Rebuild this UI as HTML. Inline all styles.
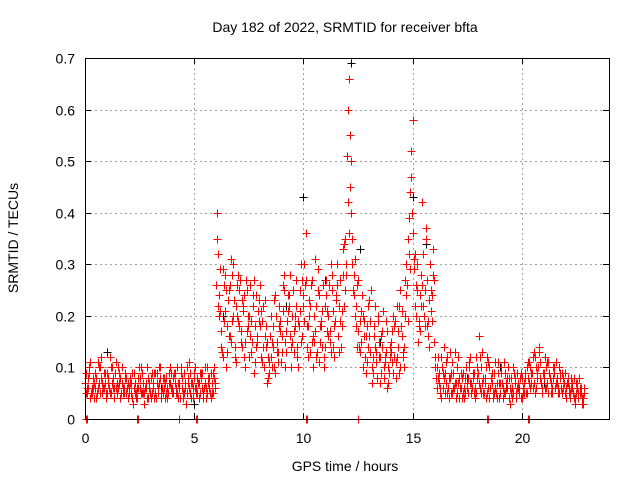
<!DOCTYPE html>
<html><head><meta charset="utf-8"><style>
body{margin:0;background:#fff;}
svg text{font-family:"Liberation Sans",sans-serif;font-size:14px;fill:#000;}
#marks path,#grid line,#ticks line{shape-rendering:crispEdges;}
</style></head><body>
<svg id="chart" width="640" height="480" xmlns="http://www.w3.org/2000/svg">
<rect width="640" height="480" fill="#fff"/>
<text x="345" y="32" text-anchor="middle">Day 182 of 2022, SRMTID for receiver bfta</text>
<text transform="translate(18,238) rotate(-90)" text-anchor="middle">SRMTID / TECUs</text>
<text x="345" y="471" text-anchor="middle">GPS time / hours</text>
<g id="grid"></g><g id="ticks"></g><g id="marks"></g>
<rect x="85.5" y="58.5" width="524" height="361" fill="none" stroke="#000" stroke-width="1"/>
</svg>
<script>
const xTicks=[0,5,10,15,20];
const yTicks=[0,0.1,0.2,0.3,0.4,0.5,0.6,0.7];
const yTickLabels=["0","0.1","0.2","0.3","0.4","0.5","0.6","0.7"];
const redA=[.07,.05,.09,.06,.04,.08,.06,.10,.05,.07,.09,.06,.05,.08,.11,.06,.04,.07,.05,.08,
.06,.05,.03,.07,.04,.06,.09,.05,.07,.04,.08,.06,.05,.09,.07,.04,.06,.08,.05,.07,
.06,.09,.05,.07,.10,.04,.06,.08,.05,.07,.09,.06,.04,.08,.05,.07,.10,.06,.05,.08,
.26,.32,.21,.12,.28,.18,.25,.15,.30,.22,.19,.27,.14,.24,.17,.20,.13,.22,.11,.16,
.26,.19,.10,.14,.08,.12,.18,.09,.15,.22,.13,.25,.17,.21,.28,.15,.20,.12,.18,.30,
.24,.36,.18,.13,.27,.15,.22,.11,.19,.26,.14,.21,.17,.28,.12,.23,.16,.19,.33,.25,
.51,.66,.40,.28,.22,.17,.13,.24,.19,.11,.16,.25,.09,.14,.20,.12,.17,.08,.13,.10,
.15,.09,.19,.12,.22,.16,.10,.30,.35,.44,.58,.32,.25,.18,.28,.22,.37,.19,.30,.24,
.15,.10,.07,.12,.06,.09,.05,.08,.11,.06,.04,.07,.09,.05,.08,.06,.10,.07,.05,.12,
.09,.06,.13,.07,.05,.10,.08,.04,.06,.09,.05,.07,.11,.06,.04,.08,.05,.07,.09,.06,
.04,.07,.05,.08,.10,.06,.12,.08,.14,.07,.09,.06,.11,.08,.05,.09,.07,.10,.06,.08,
.05,.07,.04,.06,.08,.05,.04,.06,.03];
const redB=[.05,.08,.04,.06,.09,.05,.07,.12,.06,.04,.08,.05,.10,.06,.07,.09,.05,.06,.08,.04,
.08,.04,.06,.05,.08,.10,.05,.06,.04,.07,.05,.09,.04,.06,.08,.05,.07,.04,.09,.06,
.08,.05,.07,.04,.06,.09,.05,.11,.07,.04,.06,.08,.05,.09,.06,.04,.07,.09,.05,.06,
.40,.20,.14,.26,.10,.23,.16,.28,.12,.20,.25,.15,.21,.10,.18,.26,.15,.09,.24,.19,
.12,.22,.16,.07,.11,.15,.10,.20,.13,.17,.26,.10,.19,.24,.14,.17,.22,.10,.25,.16,
.30,.14,.20,.26,.10,.17,.29,.15,.21,.12,.24,.16,.30,.14,.19,.26,.13,.21,.34,.28,
.60,.45,.35,.20,.26,.14,.21,.10,.16,.22,.13,.07,.18,.11,.15,.09,.21,.12,.06,.14,
.11,.18,.08,.14,.25,.12,.20,.26,.39,.52,.29,.20,.15,.24,.42,.18,.27,.14,.21,.33,
.12,.08,.05,.10,.14,.07,.04,.09,.06,.13,.05,.08,.04,.06,.10,.05,.07,.09,.04,.08,
.16,.05,.08,.04,.11,.06,.09,.05,.07,.04,.10,.06,.05,.08,.03,.06,.09,.05,.07,.04,
.06,.09,.05,.11,.07,.13,.06,.10,.08,.05,.12,.07,.09,.05,.08,.11,.06,.09,.05,.07,
.04,.06,.08,.05,.03,.07,.05,.04,.06];
const redC=[.09,.06,.11,.05,.07,.04,.10,.08,.06,.09,.05,.12,.07,.04,.06,.10,.08,.05,.09,.06,
.05,.07,.09,.04,.06,.08,.05,.03,.10,.06,.04,.07,.09,.05,.10,.06,.08,.05,.07,.09,
.05,.07,.10,.06,.08,.05,.03,.07,.09,.06,.10,.05,.07,.09,.04,.06,.08,.05,.07,.10,
.35,.24,.17,.29,.21,.13,.26,.19,.23,.11,.28,.17,.22,.15,.25,.12,.19,.27,.14,.21,
.18,.11,.23,.15,.09,.20,.14,.24,.11,.19,.16,.28,.13,.22,.10,.25,.18,.14,.21,.27,
.19,.27,.12,.22,.16,.31,.13,.24,.18,.10,.27,.20,.15,.25,.18,.30,.22,.14,.28,.35,
.42,.55,.30,.24,.18,.27,.15,.20,.12,.18,.23,.10,.16,.13,.19,.07,.14,.11,.17,.09,
.13,.20,.11,.17,.10,.21,.14,.24,.32,.47,.36,.22,.30,.17,.26,.20,.35,.16,.25,.28,
.10,.06,.09,.04,.08,.11,.06,.13,.05,.07,.10,.04,.06,.09,.05,.08,.12,.06,.09,.05,
.07,.10,.05,.08,.12,.04,.07,.09,.05,.11,.07,.04,.09,.06,.08,.05,.10,.04,.06,.08,
.08,.05,.10,.07,.09,.12,.05,.09,.11,.06,.08,.10,.05,.07,.10,.06,.08,.05,.09,.07,
.06,.08,.05,.07,.04,.06,.08,.05,.04];
const redD=[.06,.10,.05,.08,.06,.11,.05,.07,.09,.05,.07,.10,.06,.09,.05,.07,.10,.06,.05,.07,
.07,.09,.05,.06,.10,.05,.07,.06,.08,.05,.09,.04,.07,.10,.05,.08,.04,.06,.10,.05,
.09,.06,.04,.09,.05,.07,.10,.06,.04,.08,.05,.07,.09,.06,.10,.05,.08,.04,.09,.07,
.22,.29,.13,.19,.25,.16,.31,.20,.14,.26,.18,.23,.12,.27,.20,.16,.24,.18,.15,.23,
.21,.14,.18,.12,.16,.10,.23,.13,.18,.11,.21,.15,.24,.16,.20,.13,.27,.19,.15,.22,
.26,.18,.23,.15,.20,.12,.25,.18,.14,.22,.17,.26,.13,.21,.24,.16,.27,.18,.22,.30,
.36,.50,.25,.31,.14,.19,.24,.16,.09,.14,.19,.12,.22,.08,.12,.16,.10,.19,.07,.12,
.17,.12,.22,.09,.18,.13,.27,.19,.29,.40,.31,.26,.19,.22,.32,.25,.18,.23,.19,.27,
.08,.12,.06,.09,.05,.12,.08,.05,.09,.07,.12,.06,.08,.04,.07,.11,.05,.08,.06,.10,
.12,.07,.05,.10,.06,.08,.05,.11,.04,.07,.09,.05,.07,.10,.06,.04,.08,.06,.05,.09,
.05,.08,.11,.06,.09,.07,.10,.13,.07,.09,.06,.11,.08,.06,.10,.07,.05,.08,.06,.09,
.07,.05,.06,.04,.07,.05,.06,.03,.05];
const blackT=[1,3.5,5,6.3,7.5,9.2,10,11,12.2,12.6,13.5,15,15.6,17.5,19,21,22];
const blackV=[.13,.06,.03,.20,.12,.22,.43,.27,.69,.33,.15,.43,.34,.08,.10,.07,.05];
const zeroT=[0.05,0.1,2.4,2.45,4.3,5.1,5.15,10.1,10.15,12.5,18.4,18.45,20.3,20.35];
const zeroV=[0,0,0,0,0,0,0,0,0,0,0,0,0,0];
const X0=85,X1=609,Y0=419,Y1=58,XMAX=24,YMAX=0.7;
const sx=v=>X0+(X1-X0)*v/XMAX, sy=v=>Y0-(Y0-Y1)*v/YMAX;
const NS="http://www.w3.org/2000/svg";
function mk(t,a,p){const e=document.createElementNS(NS,t);for(const k in a)e.setAttribute(k,a[k]);p.appendChild(e);return e;}
const grid=document.getElementById('grid'),ticks=document.getElementById('ticks'),marks=document.getElementById('marks');
xTicks.forEach(v=>{const x=Math.round(sx(v))+0.5;
 const g=mk('line',{x1:x,x2:x,y1:Y1,y2:Y0,stroke:'#a0a0a0','stroke-dasharray':'2,3'},grid);
 
 
 mk('line',{x1:x,x2:x,y1:Y0,y2:Y0-6,stroke:'#000'},ticks);
 mk('line',{x1:x,x2:x,y1:Y1,y2:Y1+6,stroke:'#000'},ticks);
 const t=mk('text',{x:x,y:Y0+24,'text-anchor':'middle'},ticks);t.textContent=v;
 
 });
yTicks.forEach((v,i)=>{const y=Math.round(sy(v))+0.5;
 const g=mk('line',{x1:X0,x2:X1,y1:y,y2:y,stroke:'#a0a0a0','stroke-dasharray':'2,3'},grid);
 
 
 mk('line',{x1:X0,x2:X0+6,y1:y,y2:y,stroke:'#000'},ticks);
 mk('line',{x1:X1,x2:X1-6,y1:y,y2:y,stroke:'#000'},ticks);
 const t=mk('text',{x:X0-10,y:y+5,'text-anchor':'end'},ticks);t.textContent=yTickLabels[i];
 
 });
function plus(t,v,c,name){const x=Math.round(sx(t))+0.5,y=Math.round(sy(v))+0.5;
 const p=mk('path',{d:`M${x-4},${y}H${x+4}M${x},${y-4}V${y+4}`,stroke:c,'stroke-width':1,fill:'none'},marks);
 
 }
blackV.forEach((v,i)=>plus(blackT[i],v,'#000','black-point'));
redA.forEach((v,i)=>plus(i*0.1,v,'#f00','red-point'));
redB.forEach((v,i)=>plus(i*0.1+0.05,v,'#f00','red-point'));
redC.forEach((v,i)=>plus(i*0.1+0.025,v,'#f00','red-point'));
redD.forEach((v,i)=>plus(i*0.1+0.075,v,'#f00','red-point'));
zeroV.forEach((v,i)=>plus(zeroT[i],v,'#f00','red-zero-point'));
</script>
</body></html>
